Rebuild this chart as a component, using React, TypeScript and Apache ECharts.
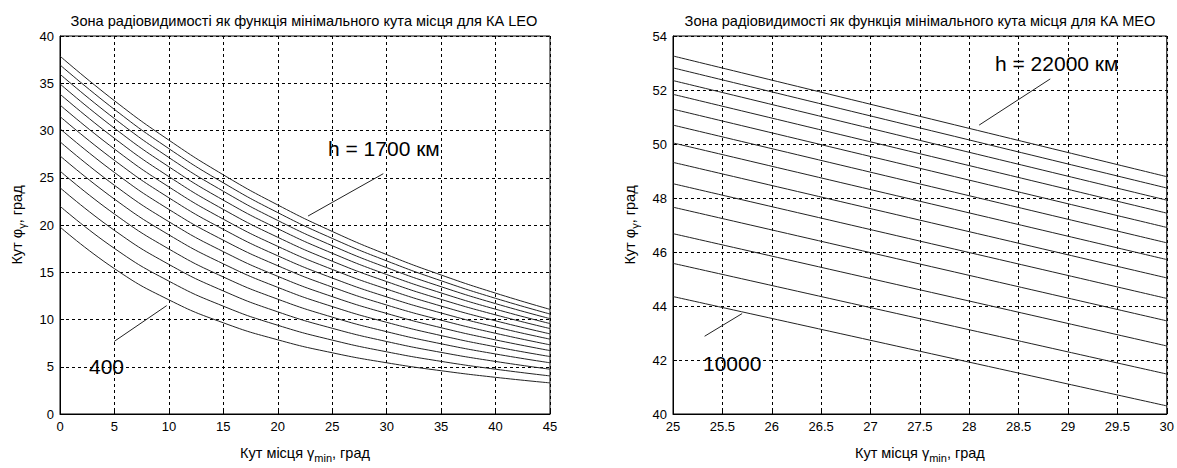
import React, { useEffect, useRef } from "react";
import * as echarts from "echarts";

// ---------- LEO chart data (γmin, deg → φγ, deg), one array per orbit height ----------
const leoGamma = [0, 5, 10, 15, 20, 25, 30, 35, 40, 45];
const leoH400 = [19.79, 15.38, 12.08, 9.65, 7.85, 6.48, 5.42, 4.58, 3.88, 3.29];
const leoH500 = [21.99, 17.52, 14.06, 11.41, 9.39, 7.82, 6.58, 5.57, 4.74, 4.03];
const leoH600 = [23.95, 19.43, 15.83, 13.02, 10.81, 9.07, 7.67, 6.52, 5.56, 4.74];
const leoH700 = [25.71, 21.16, 17.46, 14.5, 12.15, 10.25, 8.71, 7.43, 6.35, 5.42];
const leoH800 = [27.32, 22.74, 18.96, 15.89, 13.4, 11.37, 9.7, 8.3, 7.11, 6.08];
const leoH900 = [28.81, 24.2, 20.35, 17.18, 14.57, 12.42, 10.64, 9.13, 7.84, 6.71];
const leoH1000 = [30.19, 25.56, 21.65, 18.39, 15.69, 13.43, 11.53, 9.93, 8.54, 7.32];
const leoH1100 = [31.48, 26.84, 22.88, 19.54, 16.74, 14.39, 12.39, 10.69, 9.21, 7.92];
const leoH1200 = [32.7, 28.04, 24.03, 20.62, 17.74, 15.3, 13.22, 11.42, 9.86, 8.48];
const leoH1300 = [33.85, 29.17, 25.12, 21.65, 18.7, 16.17, 14.01, 12.13, 10.49, 9.04];
const leoH1400 = [34.93, 30.24, 26.16, 22.63, 19.61, 17.01, 14.76, 12.81, 11.09, 9.57];
const leoH1500 = [35.96, 31.26, 27.14, 23.57, 20.48, 17.81, 15.49, 13.47, 11.68, 10.09];
const leoH1600 = [36.94, 32.23, 28.08, 24.46, 21.31, 18.58, 16.2, 14.1, 12.24, 10.58];
const leoH1700 = [37.87, 33.15, 28.98, 25.31, 22.12, 19.32, 16.87, 14.71, 12.79, 11.07];
const leoHeights = [400, 500, 600, 700, 800, 900, 1000, 1100, 1200, 1300, 1400, 1500, 1600, 1700];
const leoCurves = [
  leoH400, leoH500, leoH600, leoH700, leoH800, leoH900, leoH1000,
  leoH1100, leoH1200, leoH1300, leoH1400, leoH1500, leoH1600, leoH1700,
];

// ---------- MEO chart data ----------
const meoGamma = [25, 30];
const meoH10000 = [44.35, 40.3];
const meoH11000 = [45.58, 41.48];
const meoH12000 = [46.68, 42.52];
const meoH13000 = [47.66, 43.45];
const meoH14000 = [48.53, 44.28];
const meoH15000 = [49.32, 45.04];
const meoH16000 = [50.04, 45.72];
const meoH17000 = [50.7, 46.34];
const meoH18000 = [51.29, 46.91];
const meoH19000 = [51.84, 47.44];
const meoH20000 = [52.35, 47.92];
const meoH21000 = [52.82, 48.37];
const meoH22000 = [53.26, 48.79];
const meoHeights = [10000, 11000, 12000, 13000, 14000, 15000, 16000, 17000, 18000, 19000, 20000, 21000, 22000];
const meoCurves = [
  meoH10000, meoH11000, meoH12000, meoH13000, meoH14000, meoH15000, meoH16000,
  meoH17000, meoH18000, meoH19000, meoH20000, meoH21000, meoH22000,
];

// ---------- annotation pointers (data coordinates) ----------
const leoPointerTop = [[22.78, 20.95], [29.69, 25.43]];
const leoPointerBottom = [[4.99, 7.69], [9.8, 11.47]];
const meoPointerTop = [[28.1, 50.7], [28.82, 52.41]];
const meoPointerBottom = [[25.32, 42.88], [25.7, 43.72]];

const leoTitle = "Зона радіовидимості як функція мінімального кута місця для КА LEO";
const meoTitle = "Зона радіовидимості як функція мінімального кута місця для КА MEO";

export default function App() {
  const ref = useRef<HTMLDivElement>(null);

  useEffect(() => {
    const chart = echarts.init(ref.current as HTMLDivElement, null, { renderer: "svg" });
    const font = "'Liberation Sans', Arial, Helvetica, sans-serif";

    const axisCommon = {
      axisLine: { show: true, onZero: false, lineStyle: { color: "#000", width: 1 } },
      axisTick: { show: true, inside: true, length: 4, lineStyle: { color: "#000" } },
      splitLine: { show: true, lineStyle: { color: "#000", type: [3, 3], width: 1 } },
      axisLabel: { color: "#000", fontSize: 13, fontFamily: font, margin: 6 },
    };

    const xName = "{a|Кут місця γ}{s|min}{a|, град}";
    const yName = "{a|Кут φ}{s|γ}{a|, град}";
    const nameRich = {
      a: { fontSize: 14.5, fontFamily: font, color: "#000", verticalAlign: "middle" },
      s: { fontSize: 11, fontFamily: font, color: "#000", verticalAlign: "bottom", padding: [9, 0, 0, 0] },
    };

    const curveSeries = (
      curves: number[][],
      heights: number[],
      gamma: number[],
      idx: number
    ) =>
      curves.map((vals, i) => ({
        type: "line",
        name: `h${heights[i]}`,
        xAxisIndex: idx,
        yAxisIndex: idx,
        data: vals.map((v, j) => [gamma[j], v]),
        showSymbol: false,
        smooth: 0.5,
        silent: true,
        lineStyle: { color: "#222", width: 1 },
      }));

    const pointer = (pts: number[][], idx: number) => ({
      type: "line",
      xAxisIndex: idx,
      yAxisIndex: idx,
      data: pts,
      showSymbol: false,
      silent: true,
      lineStyle: { color: "#222", width: 1 },
    });

    const annoText = (text: string, x: number, y: number) => ({
      type: "text",
      x,
      y,
      style: {
        text,
        fontSize: 21,
        fontFamily: font,
        fill: "#000",
        align: "left",
        verticalAlign: "middle",
      },
    });

    const titleStyle = { fontSize: 14.6, fontWeight: "normal", fontFamily: font, color: "#000" };

    chart.setOption({
      animation: false,
      backgroundColor: "#fff",
      title: [
        { text: leoTitle, left: 304, top: 13, padding: 0, textAlign: "center", textStyle: titleStyle },
        { text: meoTitle, left: 920, top: 13, padding: 0, textAlign: "center", textStyle: titleStyle },
      ],
      grid: [
        { left: 60, top: 36, width: 490, height: 387, show: true, borderColor: "#000", borderWidth: 1 },
        { left: 673, top: 36, width: 494, height: 387, show: true, borderColor: "#000", borderWidth: 1 },
      ],
      xAxis: [
        {
          ...axisCommon,
          gridIndex: 0,
          type: "value",
          min: 0,
          max: 45,
          interval: 5,
          name: xName,
          nameLocation: "middle",
          nameGap: 29,
          nameTextStyle: { rich: nameRich },
        },
        {
          ...axisCommon,
          gridIndex: 1,
          type: "value",
          min: 25,
          max: 30,
          interval: 0.5,
          name: xName,
          nameLocation: "middle",
          nameGap: 29,
          nameTextStyle: { rich: nameRich },
        },
      ],
      yAxis: [
        {
          ...axisCommon,
          gridIndex: 0,
          type: "value",
          min: 0,
          max: 40,
          interval: 5,
          name: yName,
          nameLocation: "middle",
          nameGap: 33,
          nameTextStyle: { rich: nameRich },
        },
        {
          ...axisCommon,
          gridIndex: 1,
          type: "value",
          min: 40,
          max: 54,
          interval: 2,
          name: yName,
          nameLocation: "middle",
          nameGap: 33,
          nameTextStyle: { rich: nameRich },
        },
      ],
      series: [
        ...curveSeries(leoCurves, leoHeights, leoGamma, 0),
        ...curveSeries(meoCurves, meoHeights, meoGamma, 1),
        pointer(leoPointerTop, 0),
        pointer(leoPointerBottom, 0),
        pointer(meoPointerTop, 1),
        pointer(meoPointerBottom, 1),
      ],
      graphic: [
        annoText("h = 1700 км", 328, 148),
        annoText("400", 89, 366),
        annoText("h = 22000 км", 995, 63),
        annoText("10000", 703, 363),
      ],
    });

    return () => chart.dispose();
  }, []);

  return (
    <div
      ref={ref}
      style={{ position: "fixed", left: 0, top: 0, width: 1177, height: 468, background: "#fff" }}
    />
  );
}
